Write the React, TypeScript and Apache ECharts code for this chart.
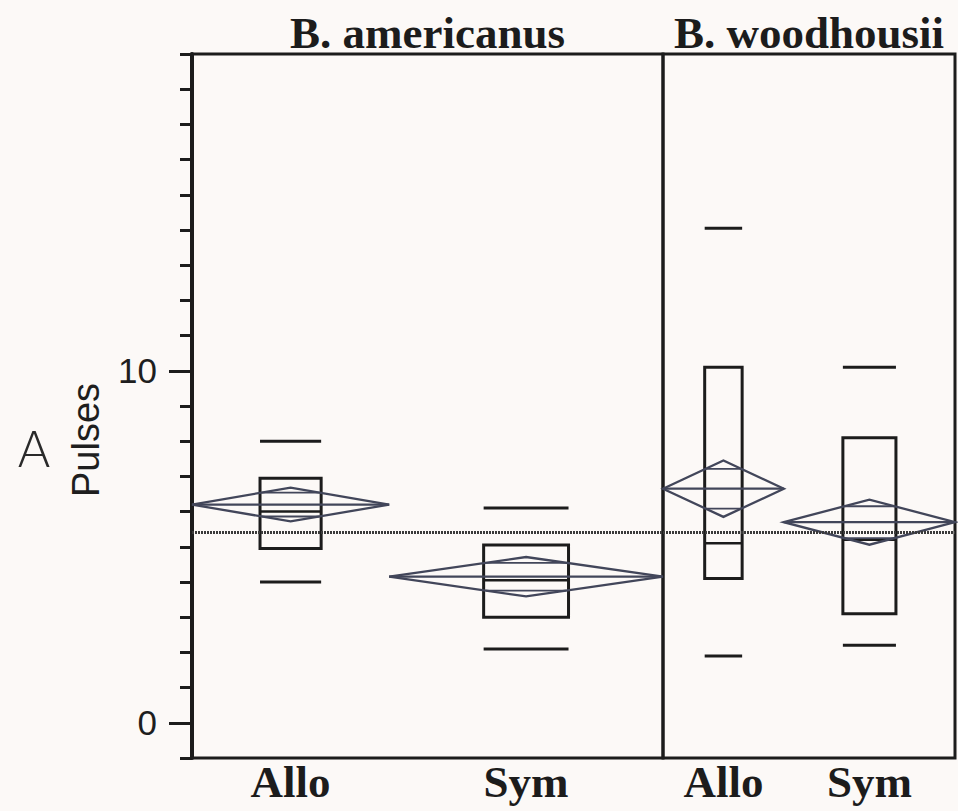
import React, { useEffect, useRef } from "react";
import * as echarts from "echarts";

// ---- data ----
const panelTitles = ["B. americanus", "B. woodhousii"];
const groupNames = ["Allo", "Sym"];
const groupSizes = [[18, 25], [12, 17]]; // relative group widths (sample sizes, estimated)
const q10 = [[4.0, 2.1], [1.9, 2.2]];
const q25 = [[4.95, 3.0], [4.1, 3.1]];
const medians = [[6.0, 4.05], [5.1, 5.2]];
const q75 = [[6.95, 5.05], [10.1, 8.1]];
const q90 = [[8.0, 6.1], [14.05, 10.1]];
const means = [[6.2, 4.15], [6.65, 5.7]];
const ciHalf = [[0.48, 0.56], [0.8, 0.64]];
const grandMean = 5.4;
const yTickLabels = [0, 10];
const yMin = -1;
const yMax = 19;
const yAxisTitle = "Pulses";
const figureLetter = "A";

const INK = "#1c1c1c";
const DIAMOND = "#42465a";

function panelData(p: number) {
  let cum = 0;
  return groupNames.map((_, i) => {
    const start = cum;
    cum += groupSizes[p][i];
    return [start, cum, q10[p][i], q25[p][i], medians[p][i], q75[p][i], q90[p][i], means[p][i], ciHalf[p][i]];
  });
}

function renderGroup(params: any, api: any) {
  const start = api.value(0);
  const end = api.value(1);
  const v10 = api.value(2), v25 = api.value(3), med = api.value(4), v75 = api.value(5), v90 = api.value(6);
  const m = api.value(7), h = api.value(8);
  const y = (v: number) => api.coord([start, v])[1];
  const L = api.coord([start, m])[0];
  const R = api.coord([end, m])[0];
  const cx = (L + R) / 2;
  const bw = (R - L) * 0.31;
  const ym = y(m);
  const d = h / Math.SQRT2;
  const ow = ((R - L) / 2) * (1 - 1 / Math.SQRT2);
  const bottom = y(yMin);
  const line = (x1: number, y1: number, x2: number, y2: number, stroke: string, w: number) => ({
    type: "line",
    shape: { x1, y1, x2, y2 },
    style: { stroke, lineWidth: w },
  });
  return {
    type: "group",
    children: [
      line(cx - bw / 2, y(v90), cx + bw / 2, y(v90), INK, 3),
      line(cx - bw / 2, y(v10), cx + bw / 2, y(v10), INK, 3),
      {
        type: "rect",
        shape: { x: cx - bw / 2, y: y(v75), width: bw, height: y(v25) - y(v75) },
        style: { fill: "none", stroke: INK, lineWidth: 3 },
      },
      line(cx - bw / 2, y(med), cx + bw / 2, y(med), INK, 2.5),
      {
        type: "polygon",
        shape: { points: [[L, ym], [cx, y(m + h)], [R, ym], [cx, y(m - h)]] },
        style: { fill: "none", stroke: DIAMOND, lineWidth: 2.3 },
      },
      line(L, ym, R, ym, DIAMOND, 2.3),
      line(cx - ow, y(m + d), cx + ow, y(m + d), DIAMOND, 1.8),
      line(cx - ow, y(m - d), cx + ow, y(m - d), DIAMOND, 1.8),
      {
        type: "text",
        x: cx,
        y: bottom + 24,
        style: {
          text: groupNames[params.dataIndex],
          fill: INK,
          fontFamily: "Liberation Serif",
          fontWeight: "bold",
          fontSize: 45,
          align: "center",
          verticalAlign: "middle",
        },
      },
    ],
  };
}

export default function App() {
  const ref = useRef<HTMLDivElement>(null);
  useEffect(() => {
    if (!ref.current) return;
    const chart = echarts.init(ref.current, undefined, { renderer: "svg" });
    const gridTop = 54;
    const gridH = 704;
    const grids = [
      { left: 192, top: gridTop, width: 471, height: gridH },
      { left: 663, top: gridTop, width: 292, height: gridH },
    ].map((g) => ({ ...g, show: true, borderColor: INK, borderWidth: 3, backgroundColor: "transparent" }));

    const xAxes = [0, 1].map((p) => ({
      type: "value",
      gridIndex: p,
      min: 0,
      max: groupSizes[p].reduce((a, b) => a + b, 0),
      show: false,
    }));

    const yAxes: any[] = [
      {
        type: "value",
        gridIndex: 0,
        position: "left",
        min: yMin,
        max: yMax,
        interval: 1,
        axisLine: { show: true, lineStyle: { color: INK, width: 4 } },
        axisTick: { show: true, length: 12, lineStyle: { color: INK, width: 3 } },
        axisLabel: { show: false },
        splitLine: { show: false },
      },
      {
        type: "value",
        gridIndex: 0,
        position: "left",
        offset: 0,
        min: yMin,
        max: yMax,
        interval: 1,
        axisLine: { show: false },
        axisTick: { show: true, length: 23, customValues: yTickLabels, lineStyle: { color: INK, width: 3 } },
        axisLabel: {
          show: true,
          customValues: yTickLabels,
          margin: 35,
          color: "#1e1e1e",
          fontFamily: "Liberation Sans",
          fontSize: 35,
        },
        splitLine: { show: false },
      },
      {
        type: "value",
        gridIndex: 1,
        min: yMin,
        max: yMax,
        show: false,
      },
    ];

    const series = [0, 1].map((p) => ({
      type: "custom",
      xAxisIndex: p,
      yAxisIndex: p === 0 ? 0 : 2,
      data: panelData(p),
      renderItem: renderGroup,
      clip: false,
      silent: true,
      markLine: {
        silent: true,
        symbol: "none",
        label: { show: false },
        lineStyle: { type: [2, 1], color: "#3a3a3a", width: 3 },
        data: [{ yAxis: grandMean }],
      },
    }));

    const graphic: any[] = [
      ...panelTitles.map((t, p) => ({
        type: "text",
        x: grids[p].left + grids[p].width / 2,
        y: 33,
        style: {
          text: t,
          fill: INK,
          fontFamily: "Liberation Serif",
          fontWeight: "bold",
          fontSize: 45,
          align: "center",
          verticalAlign: "middle",
        },
      })),
      {
        type: "text",
        x: 86,
        y: 440,
        rotation: Math.PI / 2,
        style: {
          text: yAxisTitle,
          fill: "#1e1e1e",
          fontFamily: "Liberation Sans",
          fontSize: 38,
          align: "center",
          verticalAlign: "middle",
        },
      },
      {
        type: "text",
        x: 34,
        y: 450,
        style: {
          text: figureLetter,
          fill: "#2a2a2a",
          fontFamily: "DejaVu Sans",
          fontWeight: 300,
          fontSize: 50,
          align: "center",
          verticalAlign: "middle",
        },
      },
    ];

    chart.setOption({
      animation: false,
      backgroundColor: "#fcf9f7",
      grid: grids,
      xAxis: xAxes,
      yAxis: yAxes,
      series,
      graphic,
    });
    return () => chart.dispose();
  }, []);
  return <div ref={ref} style={{ position: "absolute", left: 0, top: 0, width: 958, height: 811 }} />;
}
